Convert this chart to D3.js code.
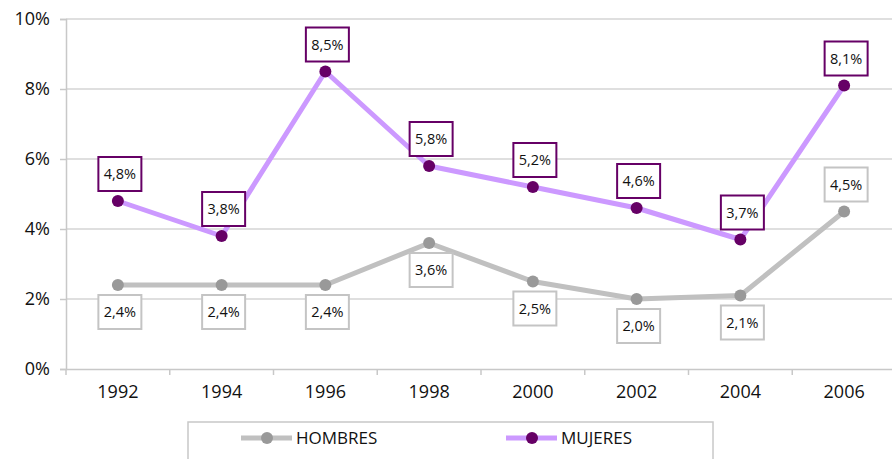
<!DOCTYPE html>
<html>
<head>
<meta charset="utf-8">
<script src="https://cdn.jsdelivr.net/npm/d3@7"></script>
<style>
  body { margin: 0; background: #fff; }
  svg { display: block; font-family: "Open Sans", sans-serif; }
</style>
</head>
<body>
<div id="chart"></div>
<script>
// years on the x axis
var years = ["1992", "1994", "1996", "1998", "2000", "2002", "2004", "2006"];
// percentages for each series
var hombres = [2.4, 2.4, 2.4, 3.6, 2.5, 2.0, 2.1, 4.5];
var mujeres = [4.8, 3.8, 8.5, 5.8, 5.2, 4.6, 3.7, 8.1];
var yTicks = [0, 2, 4, 6, 8, 10];

var svgWidth = 892;
var svgHeight = 459;
var margin = { top: 19, right: -4, bottom: 90, left: 66 };
var width = svgWidth - margin.left - margin.right;
var height = svgHeight - margin.top - margin.bottom;

var svg = d3.select("#chart")
  .append("svg")
  .attr("width", svgWidth)
  .attr("height", svgHeight);

var grp = svg.append("g")
  .attr("transform", `translate(${margin.left}, ${margin.top})`);

var x = d3.scaleBand().domain(years).range([0, width]);
var y = d3.scaleLinear().domain([0, 10]).range([height, 0]);

// gridlines
grp.selectAll(".grid")
  .data(yTicks.slice(1))
  .enter()
  .append("line")
  .attr("x1", 0)
  .attr("x2", width)
  .attr("y1", d => y(d))
  .attr("y2", d => y(d))
  .attr("stroke", "#d4d4d4")
  .attr("stroke-width", 1.5);

// y axis
var leftAxis = d3.axisLeft(y).tickValues(yTicks).tickSize(6).tickPadding(10)
  .tickFormat(d => d + "%");
var gy = grp.append("g").call(leftAxis);
gy.select(".domain").attr("stroke", "#c8c8c8").attr("stroke-width", 1.5);
gy.selectAll(".tick line").attr("stroke", "#c8c8c8").attr("stroke-width", 1.5);
gy.selectAll("text").attr("font-size", 18).attr("fill", "#111")
  .attr("font-family", "'Open Sans', sans-serif");

// x axis
var bottomAxis = d3.axisBottom(x).tickSize(0).tickPadding(16);
var gx = grp.append("g").attr("transform", `translate(0, ${height})`).call(bottomAxis);
gx.select(".domain").attr("stroke", "#c8c8c8").attr("stroke-width", 1.5);
gx.selectAll("text").attr("font-size", 18).attr("fill", "#111")
  .attr("font-family", "'Open Sans', sans-serif");
// band boundary ticks
grp.selectAll(".xtick")
  .data(years)
  .enter()
  .append("line")
  .attr("x1", d => x(d))
  .attr("x2", d => x(d))
  .attr("y1", height)
  .attr("y2", height + 6)
  .attr("stroke", "#c8c8c8")
  .attr("stroke-width", 1.5);

var cx = d => x(d) + x.bandwidth() / 2;

var series = [
  { name: "HOMBRES", values: hombres, line: "#c0c0c0", dot: "#999999", border: "#c4c4c4" },
  { name: "MUJERES", values: mujeres, line: "#cc99ff", dot: "#660066", border: "#660066" }
];

var line = d3.line()
  .x(d => cx(d.year))
  .y(d => y(d.value));

series.forEach(function (s) {
  var pts = years.map((yr, i) => ({ year: yr, value: s.values[i] }));
  grp.append("path")
    .datum(pts)
    .attr("d", line)
    .attr("fill", "none")
    .attr("stroke", s.line)
    .attr("stroke-width", 5)
    .attr("stroke-linejoin", "round");
  grp.selectAll(null)
    .data(pts)
    .enter()
    .append("circle")
    .attr("cx", d => cx(d.year))
    .attr("cy", d => y(d.value))
    .attr("r", 6)
    .attr("fill", s.dot);
  s.pts = pts;
});

// data labels
series.forEach(function (s) {
  var lbl = grp.selectAll(null)
    .data(s.pts)
    .enter()
    .append("g")
    .attr("transform", function (d, i) {
      var above = s.name === "MUJERES" || i === s.pts.length - 1;
      var dy = above ? -27 : 27;
      return `translate(${cx(d.year) + 2}, ${y(d.value) + dy})`;
    });
  lbl.append("rect")
    .attr("x", -21.5)
    .attr("y", -17)
    .attr("width", 43)
    .attr("height", 34)
    .attr("fill", "#fff")
    .attr("stroke", s.border)
    .attr("stroke-width", 2);
  lbl.append("text")
    .attr("text-anchor", "middle")
    .attr("dy", "0.35em")
    .attr("font-size", 14.5)
    .attr("fill", "#111")
    .text(d => d.value.toFixed(1).replace(".", ",") + "%");
});

// legend
var legend = svg.append("g").attr("transform", "translate(188, 422)");
legend.append("rect")
  .attr("x", 0)
  .attr("y", 0)
  .attr("width", 525)
  .attr("height", 50)
  .attr("fill", "#fff")
  .attr("stroke", "#c8c8c8")
  .attr("stroke-width", 1.5);

var legX = [53, 318];
series.forEach(function (s, i) {
  var g = legend.append("g").attr("transform", `translate(${legX[i]}, 16)`);
  g.append("line")
    .attr("x1", 0).attr("x2", 51)
    .attr("y1", 0).attr("y2", 0)
    .attr("stroke", s.line)
    .attr("stroke-width", 5);
  g.append("circle")
    .attr("cx", 26)
    .attr("cy", 0)
    .attr("r", 6)
    .attr("fill", s.dot);
  g.append("text")
    .attr("x", 55)
    .attr("dy", "0.35em")
    .attr("font-size", 17)
    .attr("fill", "#111")
    .text(s.name);
});
</script>
</body>
</html>
